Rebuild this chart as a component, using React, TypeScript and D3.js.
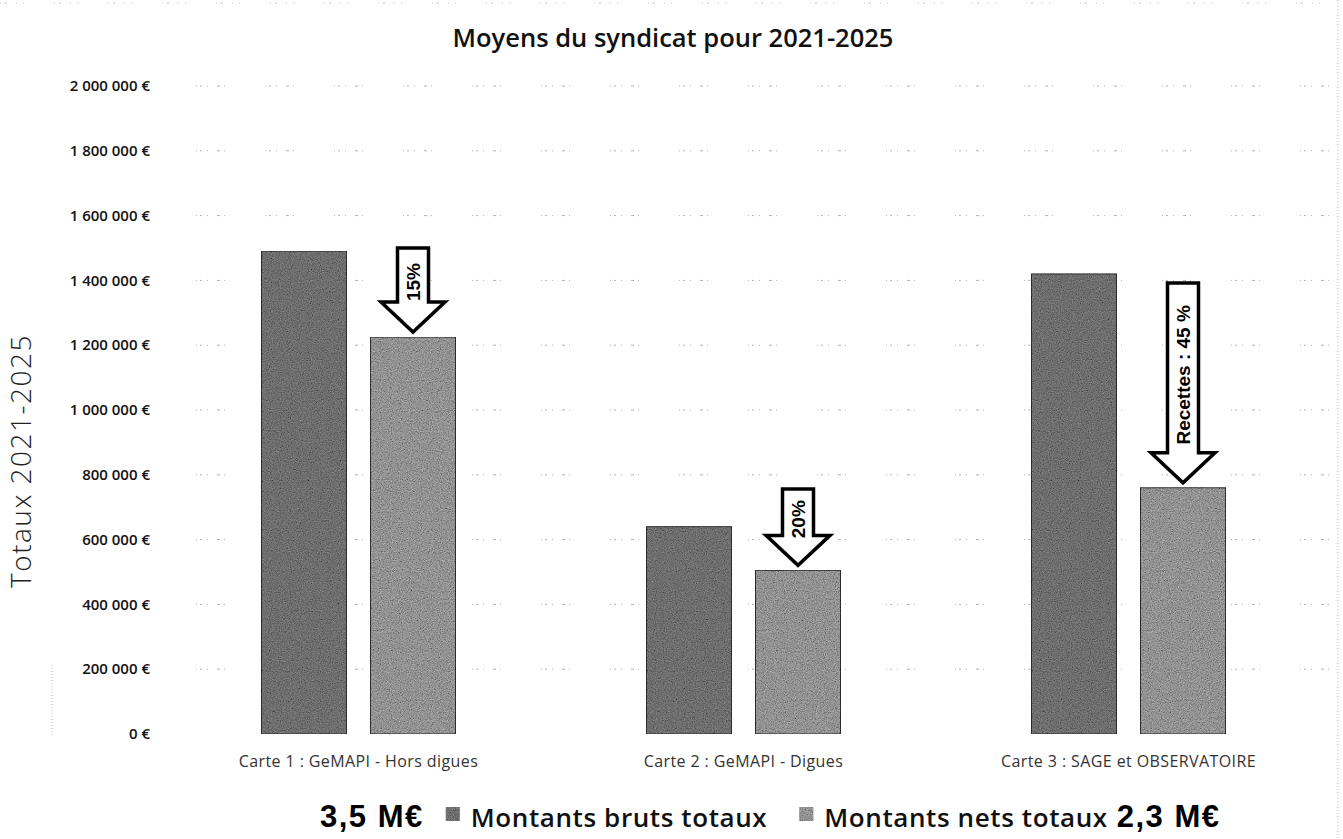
import { useEffect, useRef } from "react";
import * as d3 from "d3";

// chart values
const categories = [
  "Carte 1 : GeMAPI - Hors digues",
  "Carte 2 : GeMAPI - Digues",
  "Carte 3 : SAGE et OBSERVATOIRE",
];
const seriesNames = ["Montants bruts totaux", "Montants nets totaux"];
const brutValues = [1490000, 640000, 1420000];
const netValues = [1225000, 505000, 760000];
const arrowLabels = ["15%", "20%", "Recettes : 45 %"];
const arrowTops = [1500000, 756000, 1392000];
const totalLabels = ["3,5 M€", "2,3 M€"];
const yTicks = [0, 200000, 400000, 600000, 800000, 1000000, 1200000, 1400000, 1600000, 1800000, 2000000];

const W = 1343, H = 839;
const BRUT = "#6e6e6e", NET = "#929292";

export default function App() {
  const svgRef = useRef<SVGSVGElement>(null);

  useEffect(() => {
    const svg = d3.select(svgRef.current);
    svg.selectAll("*").remove();
    svg.attr("width", W).attr("height", H).attr("viewBox", `0 0 ${W} ${H}`);

    // grain so the bars look like the scanned original
    const defs = svg.append("defs");
    const f = defs.append("filter").attr("id", "grain").attr("x", 0).attr("y", 0).attr("width", "100%").attr("height", "100%");
    f.append("feTurbulence").attr("type", "fractalNoise").attr("baseFrequency", 0.9).attr("numOctaves", 2).attr("seed", 4).attr("result", "n");
    f.append("feColorMatrix").attr("in", "n").attr("type", "matrix")
      .attr("values", "0.5 0.5 0.5 0 -0.25  0.5 0.5 0.5 0 -0.25  0.5 0.5 0.5 0 -0.25  0 0 0 0 1").attr("result", "g");
    f.append("feComposite").attr("in", "g").attr("in2", "SourceGraphic").attr("operator", "in").attr("result", "gi");
    f.append("feBlend").attr("in", "gi").attr("in2", "SourceGraphic").attr("mode", "overlay");

    const margin = { top: 86, right: 22, bottom: 105, left: 166 };
    const innerW = W - margin.left - margin.right;
    const innerH = H - margin.top - margin.bottom;

    const locale = d3.formatLocale({ decimal: ",", thousands: " ", grouping: [3], currency: ["", " €"] });
    const fmt = locale.format(",");

    const x0 = d3.scaleBand().domain(categories).range([0, innerW]).padding(0);
    const x1 = d3.scaleBand().domain(seriesNames).range([0, x0.bandwidth()]).paddingInner(0.22).paddingOuter(0.876);
    const y = d3.scaleLinear().domain([0, 2000000]).range([innerH, 0]);

    // dotted page border from the scan
    svg.append("line").attr("x1", 0).attr("x2", W).attr("y1", 3).attr("y2", 3)
      .attr("stroke", "#bbb").attr("stroke-dasharray", "1 4 2 9 1 6 1 30").attr("stroke-width", 1);
    svg.append("line").attr("x1", W - 5).attr("x2", W - 5).attr("y1", 0).attr("y2", H)
      .attr("stroke", "#bbb").attr("stroke-dasharray", "1 2").attr("stroke-width", 1);
    svg.append("line").attr("x1", 52).attr("x2", 52).attr("y1", 665).attr("y2", 735)
      .attr("stroke", "#bbb").attr("stroke-dasharray", "1 2").attr("stroke-width", 1);

    svg.append("text").attr("x", 673).attr("y", 47).attr("text-anchor", "middle")
      .style("font-family", "'Open Sans', sans-serif").style("font-weight", 600).style("font-size", "25.5px")
      .attr("fill", "#111").text("Moyens du syndicat pour 2021-2025");

    svg.append("text").attr("transform", `translate(31,${461}) rotate(-90)`).attr("text-anchor", "middle")
      .style("font-family", "'Open Sans', sans-serif").style("font-weight", 300).style("font-size", "28px")
      .style("letter-spacing", "1.5px").attr("fill", "#222").text("Totaux 2021-2025");

    const g = svg.append("g").attr("transform", `translate(${margin.left},${margin.top})`);

    // grid
    g.append("g").selectAll("line").data(yTicks.slice(1)).enter().append("line")
      .attr("x1", 30).attr("x2", innerW + 10).attr("y1", d => y(d)).attr("y2", d => y(d))
      .attr("stroke", "#b0b0b0").attr("stroke-width", 1).attr("stroke-dasharray", "1 3 2 5 1 9 3 4 1 40");

    // y labels
    g.append("g").selectAll("text").data(yTicks).enter().append("text")
      .attr("x", -16).attr("y", d => y(d)).attr("dy", "0.35em").attr("text-anchor", "end")
      .style("font-family", "'Open Sans', sans-serif").style("font-weight", 600).style("font-size", "15px")
      .attr("fill", "#111").text(d => `${fmt(d)} €`);

    const rows = categories.map((c, i) => ({ c, vals: [brutValues[i], netValues[i]] }));

    const grp = g.selectAll(".grp").data(rows).enter().append("g")
      .attr("transform", d => `translate(${x0(d.c)},0)`);
    grp.selectAll("rect").data(d => d.vals.map((v, k) => ({ k, v }))).enter().append("rect")
      .attr("x", d => x1(seriesNames[d.k])!).attr("width", x1.bandwidth())
      .attr("y", d => y(d.v)).attr("height", d => innerH - y(d.v))
      .attr("fill", d => (d.k === 0 ? BRUT : NET)).attr("filter", "url(#grain)")
      .attr("stroke", "#2a2a2a").attr("stroke-width", 1);

    // category labels
    g.append("g").selectAll("text").data(categories).enter().append("text")
      .attr("x", d => x0(d)! + x0.bandwidth() / 2).attr("y", innerH + 33).attr("text-anchor", "middle")
      .style("font-family", "'Open Sans', sans-serif").style("font-size", "16px").style("letter-spacing", "0.4px")
      .attr("fill", "#333").text(d => d);

    // arrows over the net bars
    const shaftW = 31, headW = 64, headH = 30;
    categories.forEach((c, i) => {
      const cx = x0(c)! + x1(seriesNames[1])! + x1.bandwidth() / 2;
      const yTop = y(arrowTops[i]);
      const yTip = y(netValues[i]) - 5;
      const yHead = yTip - headH;
      const path = d3.path();
      path.moveTo(cx - shaftW / 2, yTop);
      path.lineTo(cx + shaftW / 2, yTop);
      path.lineTo(cx + shaftW / 2, yHead);
      path.lineTo(cx + headW / 2, yHead);
      path.lineTo(cx, yTip);
      path.lineTo(cx - headW / 2, yHead);
      path.lineTo(cx - shaftW / 2, yHead);
      path.closePath();
      g.append("path").attr("d", path.toString()).attr("fill", "#fff").attr("stroke", "#000")
        .attr("stroke-width", 3.5).attr("stroke-linejoin", "miter");
      const mid = (yTop + yHead) / 2 + 7;
      g.append("text").attr("transform", `translate(${cx},${mid}) rotate(-90)`)
        .attr("text-anchor", "middle").attr("dy", "0.36em")
        .style("font-family", "'Liberation Sans', Arial, sans-serif").style("font-weight", 700)
        .style("font-size", i === 2 ? "19px" : "19px").attr("fill", "#000").text(arrowLabels[i]);
    });

    // legend
    const leg = svg.append("g").attr("transform", `translate(0,${827})`);
    let cx = 320;
    const t1 = leg.append("text").attr("x", cx).attr("y", 0)
      .style("font-family", "'Liberation Sans', Arial, sans-serif").style("font-weight", 700).style("font-size", "31px")
      .style("letter-spacing", "1.5px").attr("fill", "#000").text(totalLabels[0]);
    cx += (t1.node() as SVGTextElement).getComputedTextLength() + 22;
    [BRUT, NET].forEach((col, k) => {
      leg.append("rect").attr("x", cx).attr("y", -20).attr("width", 14).attr("height", 14)
        .attr("fill", col).attr("filter", "url(#grain)");
      cx += 25;
      const t = leg.append("text").attr("x", cx).attr("y", 0)
        .style("font-family", "'Open Sans', sans-serif").style("font-weight", 600).style("font-size", "26px")
        .style("letter-spacing", "0.6px").attr("fill", "#111").text(seriesNames[k]);
      cx += (t.node() as SVGTextElement).getComputedTextLength() + (k === 0 ? 32 : 9);
    });
    leg.append("text").attr("x", cx).attr("y", 0)
      .style("font-family", "'Liberation Sans', Arial, sans-serif").style("font-weight", 700).style("font-size", "31px")
      .style("letter-spacing", "1.5px").attr("fill", "#000").text(totalLabels[1]);
  }, []);

  return <svg ref={svgRef} style={{ position: "absolute", left: 0, top: 0, background: "#fff" }} />;
}
